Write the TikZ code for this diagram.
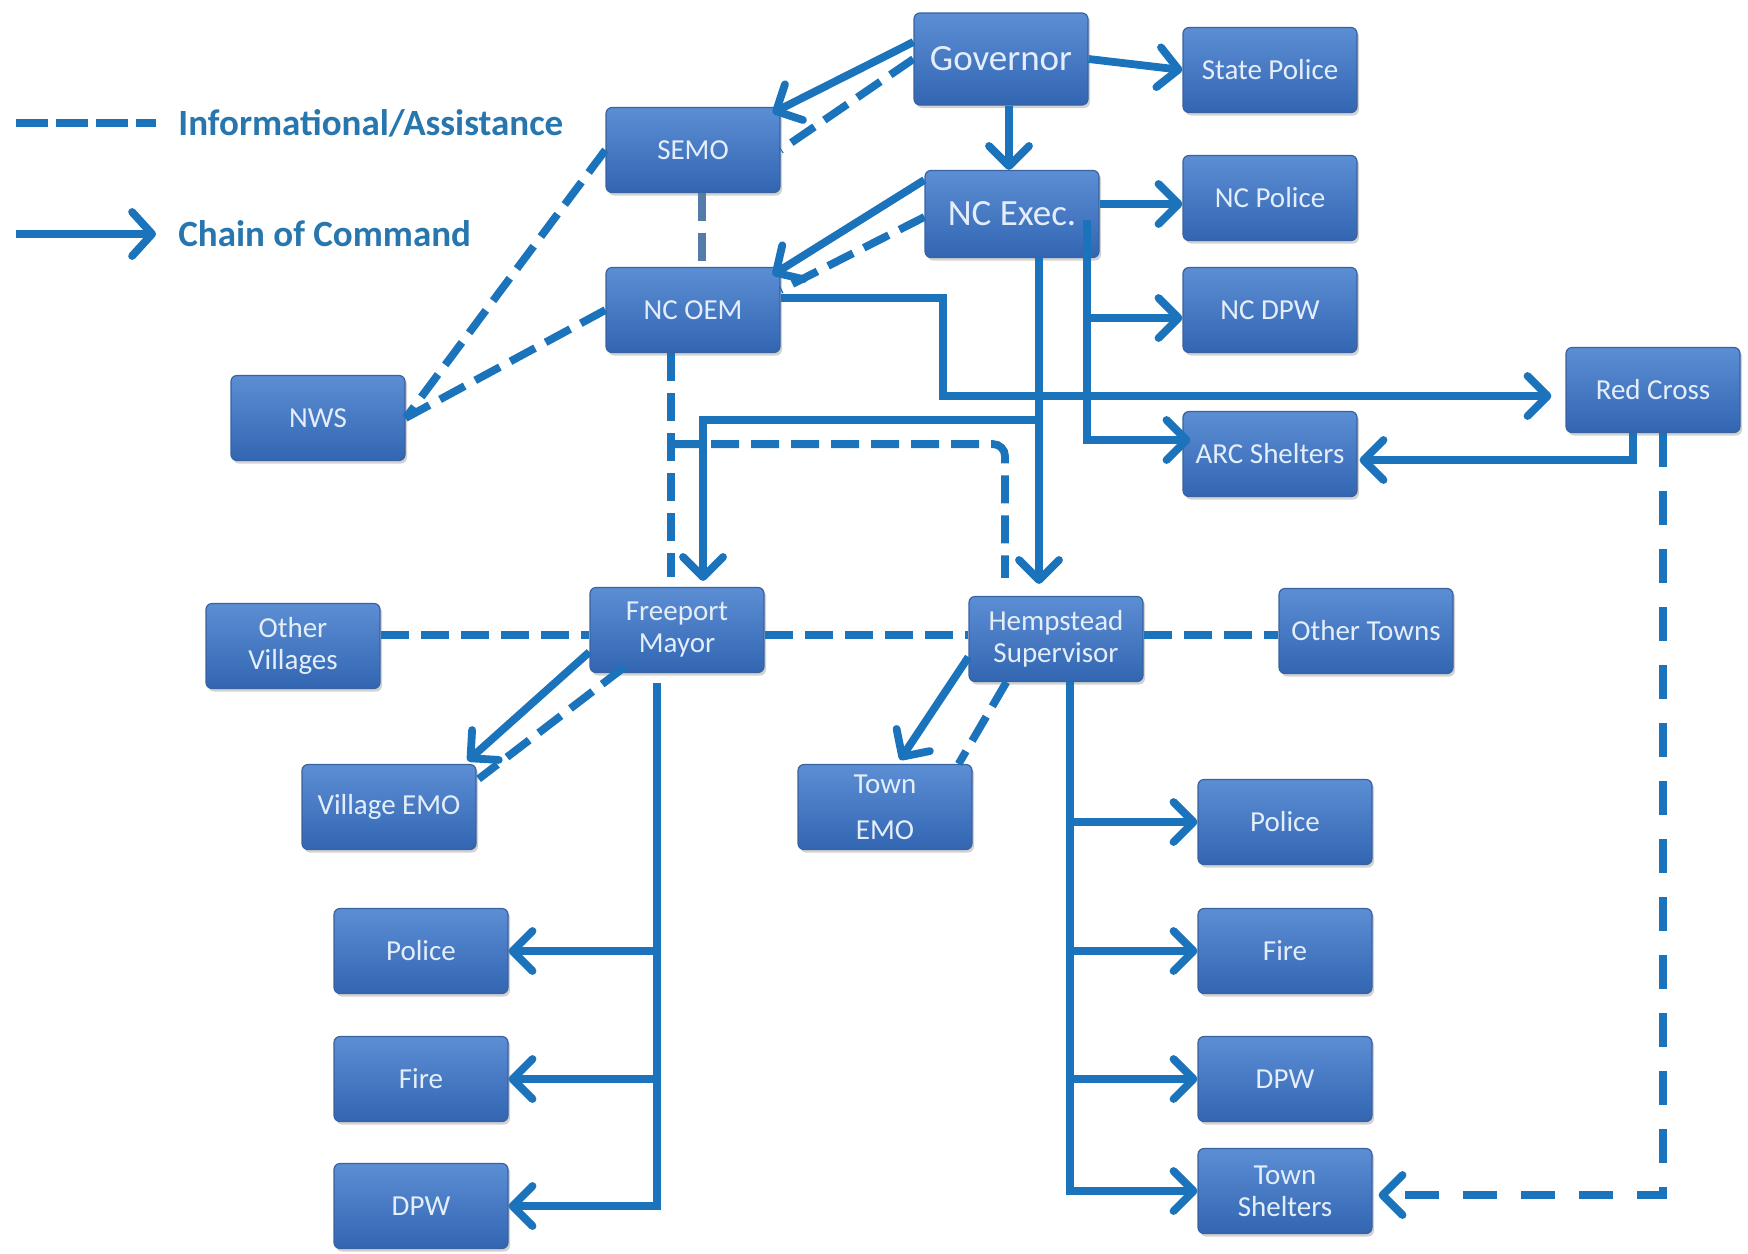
\documentclass[tikz,border=0pt]{standalone}
\usepackage{fontspec}
\setmainfont{Carlito}
\usetikzlibrary{calc,arrows.meta,shadows}
\definecolor{boxtop}{RGB}{92,142,212}
\definecolor{boxbot}{RGB}{50,102,178}
\definecolor{boxline}{RGB}{56,98,160}
\definecolor{boxtext}{RGB}{228,238,250}
\definecolor{link}{RGB}{27,115,188}
\definecolor{legendtext}{RGB}{40,118,174}
\definecolor{greylink}{RGB}{84,124,168}

\begin{document}
\begin{tikzpicture}[x=0.5pt,y=-0.5pt,
	box/.style={draw=boxline,line width=0.6pt,rounded corners=3pt,top color=boxtop,bottom color=boxbot,
		drop shadow={opacity=0.35,shadow xshift=1pt,shadow yshift=-1.5pt},text=boxtext,
		minimum width=87pt,minimum height=42.5pt,inner sep=1pt,align=center,font=\fontsize{14.5}{16}\selectfont},
	big/.style={box,minimum height=46pt,font=\fontsize{18.5}{20}\selectfont},
	legend/.style={anchor=west,inner sep=0pt,text=legendtext,font=\fontsize{18.5}{20}\selectfont\bfseries},
	cmd/.style={draw=link,line width=3.9pt,-{Straight Barb[round,length=10pt,width=20pt]}},
	info/.style={draw=link,line width=3.9pt,dash pattern=on 14pt off 6pt}]
\fill[white] (0,0) rectangle (1748,1253);
\useasboundingbox (0,0) rectangle (1748,1253);

\coordinate (lga) at (16,123);
\coordinate (lgb) at (16,234);
\node (lgi) at (178,123) [legend] {Informational/Assistance};
\node (lgc) at (178,234) [legend] {Chain of Command};
\draw[info,dash pattern=on 16pt off 4pt] (lga) -- ++(140,0);
\draw[cmd,-{Straight Barb[round,length=10pt,width=22pt]}] (lgb) -- ++(140,0);

\node (gov) at (1001,59) [big] {Governor};
\node (stp) at (1270,70) [box] {State Police};
\node (semo) at (693,150) [box] {SEMO};
\node (ncx) at (1012,214) [big,minimum height=43.5pt] {NC Exec.};
\node (ncp) at (1270,198) [box] {NC Police};
\node (oem) at (693,310) [box] {NC OEM};
\node (ncdpw) at (1270,310) [box] {NC DPW};
\node (nws) at (318,418) [box] {NWS};
\node (rc) at (1653,390) [box] {Red Cross};
\node (arc) at (1270,454) [box] {ARC Shelters};
\node (ov) at (293,646) [box] {Other\\Villages};
\node (fm) at (677,630) [box] {Freeport\\Mayor};
\node (hs) at (1056,639) [box] {Hempstead\\Supervisor};
\node (ot) at (1366,631) [box] {Other Towns};
\node (vemo) at (389,807) [box] {Village EMO};
\node (temo) at (885,807) [box] {Town\\[7pt]EMO};
\foreach \n/\t/\y in {tpol/Police/822,tfire/Fire/951,tdpw/DPW/1079}
	\node (\n) at (1285,\y) [box] {\t};
\node (tsh) at (1285,1191) [box] {Town\\Shelters};
\foreach \n/\t/\y in {vpol/Police/951,vfire/Fire/1079,vdpw/DPW/1206}
	\node (\n) at (421,\y) [box] {\t};

\draw[cmd] ($(gov.west)+(0,-17)$) -- ($(semo.north east)+(-8,6)$);
\draw[info] (gov.west) -- (semo.east);
\draw[cmd] (gov.east) -- (stp.west);
\draw[cmd] ($(gov.south)+(8,0)$) -- ($(ncx.north)+(-3,0)$);
\draw[cmd] ($(ncx.east)+(0,-10)$) -- ($(ncp.west)+(0,6)$);
\draw[cmd] ($(ncx.west)+(0,-34)$) -- ($(oem.north east)+(-8,8)$);
\draw[info] ($(ncx.west)+(0,3)$) -- ($(oem.east)+(0,-20)$);
\draw[info,draw=greylink] ($(semo.south)+(9,0)$) -- ($(oem.north)+(9,0)$);
\draw[info] (semo.west) -- (nws.east);
\draw[info] (oem.west) -- (nws.east);
\draw[cmd] ($(oem.east)+(0,-12)$) -- ++(162,0) |- ($(rc.west)+(-14,6)$);

\coordinate (ncxr) at ($(ncx.east)+(-13,6)$);
\coordinate (dpwin) at ($(ncdpw.west)+(0,8)$);
\draw[cmd] (ncxr) |- ($(arc.west)+(8,-14)$);
\draw[cmd] (ncxr |- dpwin) -- (dpwin);

\coordinate (ncxb) at ($(ncx.south)+(27,0)$);
\draw[cmd] (ncxb) -- ($(hs.north)+(-17,-12)$);
\draw[cmd] ($(ncxb)+(0,162)$) -| ($(fm.north)+(26,-6)$);
\coordinate (oemb) at ($(oem.south)+(-22,0)$);
\draw[info] (oemb) -- ($(fm.north)+(-6,-10)$);
\draw[info,rounded corners=6pt] ($(oemb)+(0,91)$) -| ($(hs.north)+(-51,-18)$);

\draw[cmd] ($(rc.south)+(-20,0)$) |- ($(arc.east)+(2,6)$);
\draw[info,dash pattern=on 17pt off 12pt,-{Straight Barb[round,length=10pt,width=20pt]}] ($(rc.south)+(10,0)$) |- ($(tsh.east)+(6,4)$);

\coordinate (hline) at ($(fm.west)+(0,5)$);
\draw[info] (ov.east |- hline) -- (hline);
\draw[info] (fm.east |- hline) -- (hs.west |- hline);
\draw[info] (hs.east |- hline) -- (ot.west |- hline);

\draw[cmd] ($(fm.west)+(0,22)$) -- ($(vemo.north east)+(-9,-3)$);
\draw[info] ($(fm.south west)+(35,-6)$) -- ($(vemo.north east)+(2,15)$);
\draw[cmd] ($(hs.west)+(0,18)$) -- ($(temo.north)+(15,-4)$);
\draw[info] ($(hs.south west)+(38,0)$) -- ($(temo.north east)+(-14,0)$);

\coordinate (fmt) at ($(fm.south)+(-20,10)$);
\draw[cmd] (fmt) |- (vdpw.east);
\foreach \n in {vpol,vfire}
	\draw[cmd] (fmt |- \n.east) -- (\n.east);
\coordinate (hst) at ($(hs.south)+(14,0)$);
\draw[cmd] (hst) |- (tsh.west);
\foreach \n in {tpol,tfire,tdpw}
	\draw[cmd] (hst |- \n.west) -- (\n.west);
\end{tikzpicture}
\end{document}
